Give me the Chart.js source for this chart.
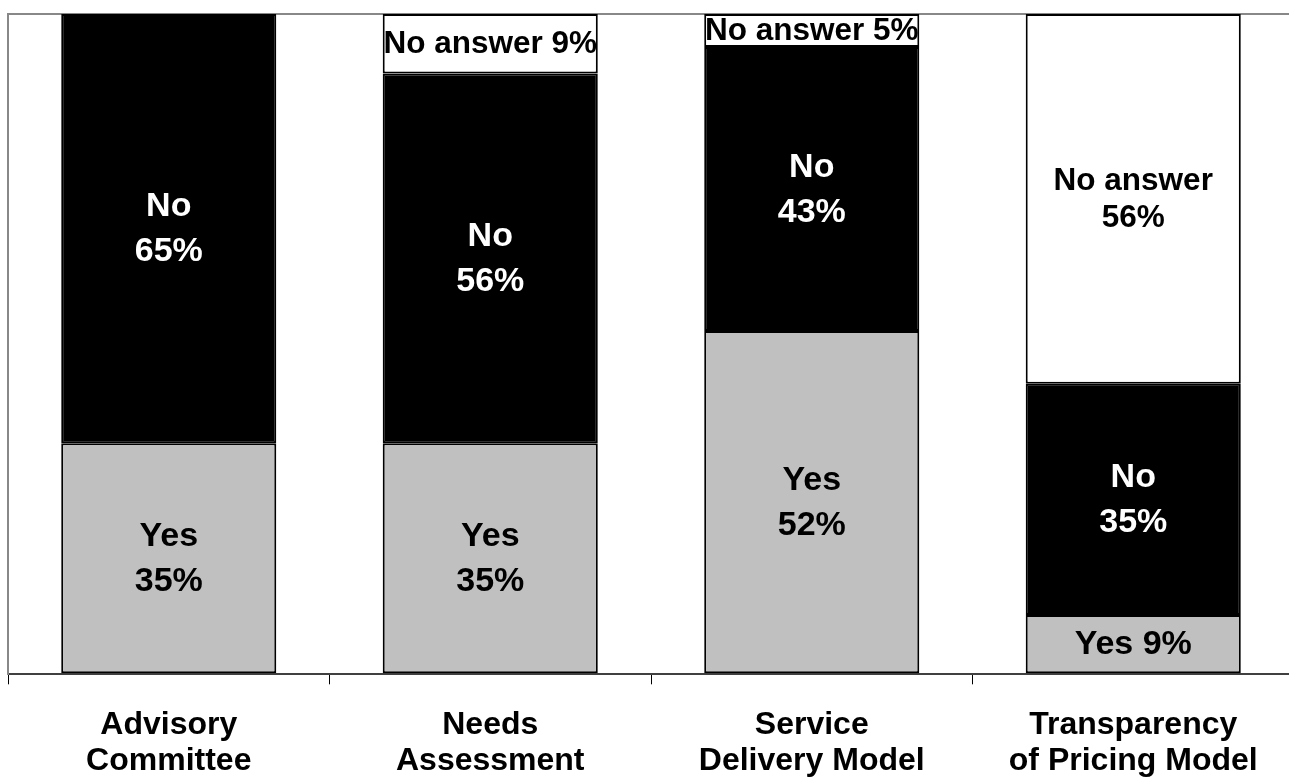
<!DOCTYPE html>
<html>
<head>
<meta charset="utf-8">
<script src="https://cdn.jsdelivr.net/npm/chart.js@4/dist/chart.umd.min.js"></script>
<style>
  html, body { margin: 0; padding: 0; background: #fff; overflow: hidden; }
  #wrap { width: 1294px; height: 802px; }
</style>
</head>
<body>
<div id="wrap"><canvas id="survey"></canvas></div>
<script>
const categories = [
  ['Advisory', 'Committee'],
  ['Needs', 'Assessment'],
  ['Service', 'Delivery Model'],
  ['Transparency', 'of Pricing Model'],
]
const yesValues = [35, 35, 52, 9]
const noValues = [65, 56, 43, 35]
const noAnswerValues = [0, 9, 5, 56]

const FONT = '"Liberation Sans", Arial, Helvetica, sans-serif'

// label text for each segment: small ones go on a single line
function segmentLines(name, value) {
  if (value < 10) return [name + ' ' + value + '%']
  return [name, value + '%']
}

const segmentLabels = {
  id: 'segmentLabels',
  afterDatasetsDraw(chart) {
    const ctx = chart.ctx
    ctx.save()
    ctx.textAlign = 'center'
    ctx.textBaseline = 'middle'
    chart.data.datasets.forEach((ds, di) => {
      const meta = chart.getDatasetMeta(di)
      meta.data.forEach((bar, i) => {
        const value = ds.data[i]
        if (!value) return
        const lines = segmentLines(ds.label, value)
        const isNoAnswer = ds.label === 'No answer'
        const size = isNoAnswer ? 31.5 : 34
        const gap = isNoAnswer ? 37 : 45
        ctx.font = 'bold ' + size + 'px ' + FONT
        ctx.fillStyle = ds.textColor
        const cy = (bar.y + bar.base) / 2
        const start = cy - (gap * (lines.length - 1)) / 2
        lines.forEach((line, k) => {
          ctx.fillText(line, bar.x, start + k * gap + 1)
        })
      })
    })
    ctx.restore()
  },
}

const data = {
  labels: categories,
  datasets: [
    {
      label: 'Yes',
      data: yesValues,
      backgroundColor: '#c0c0c0',
      textColor: '#000',
    },
    {
      label: 'No',
      data: noValues,
      backgroundColor: '#000',
      textColor: '#fff',
    },
    {
      label: 'No answer',
      data: noAnswerValues,
      backgroundColor: '#fff',
      textColor: '#000',
    },
  ],
}

const config = {
  type: 'bar',
  data,
  options: {
    responsive: true,
    maintainAspectRatio: false,
    animation: false,
    layout: { padding: { top: 14, left: 8, right: 0, bottom: 0 } },
    datasets: {
      bar: {
        borderColor: '#000',
        borderWidth: 2,
        borderSkipped: false,
        categoryPercentage: 1,
        barPercentage: 0.669,
      },
    },
    plugins: {
      legend: { display: false },
      tooltip: { enabled: false },
    },
    scales: {
      x: {
        stacked: true,
        grid: {
          offset: true,
          drawOnChartArea: false,
          drawTicks: true,
          tickLength: 10,
          color: '#000',
          lineWidth: 1,
        },
        border: { color: '#404040', width: 2 },
        ticks: {
          color: '#000',
          padding: 23,
          maxRotation: 0,
          font: { family: FONT, size: 32, weight: 'bold', lineHeight: 1.12 },
        },
      },
      y: {
        stacked: true,
        min: 0,
        max: 100,
        grid: {
          drawTicks: false,
          color: c => (c.tick && c.tick.value === 100 ? '#888' : 'rgba(0,0,0,0)'),
          lineWidth: 2,
        },
        border: { color: '#888', width: 2 },
        ticks: { display: false, stepSize: 100 },
      },
    },
  },
  plugins: [segmentLabels],
}

const surveyChart = new Chart(document.getElementById('survey').getContext('2d'), config)
</script>
</body>
</html>
